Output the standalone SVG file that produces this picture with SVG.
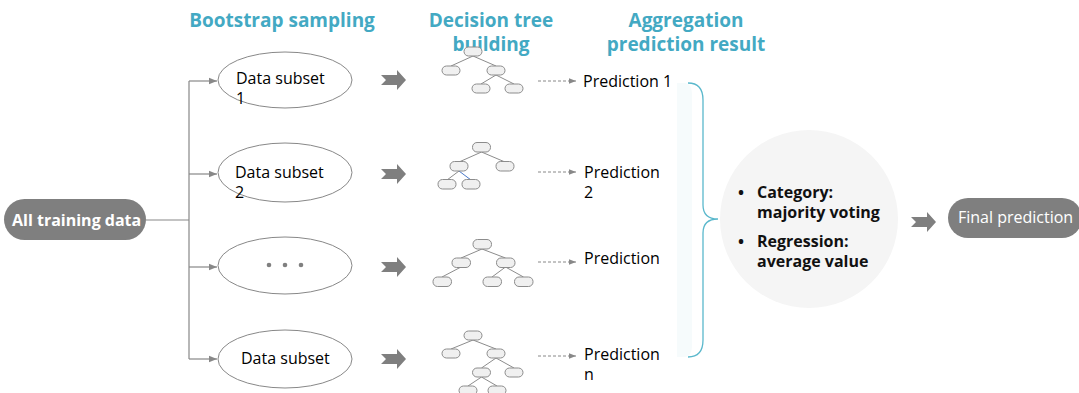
<svg xmlns="http://www.w3.org/2000/svg" width="1079" height="393" viewBox="0 0 1079 393">
<style>
.hd{font-family:"Open Sans","Noto Sans",sans-serif;font-weight:bold;font-size:19px;fill:#43a9c3;text-anchor:middle}
.t{font-family:"Open Sans","Noto Sans",sans-serif;font-size:16px;fill:#000}
.b{font-family:"Open Sans","Noto Sans",sans-serif;font-size:16px;font-weight:bold;fill:#111}
.w{font-family:"Open Sans","Noto Sans",sans-serif;font-size:16px;fill:#fff}
.ell{fill:#fff;stroke:#888;stroke-width:1}
.tn{fill:#f0f0f0;stroke:#8c8c8c;stroke-width:1}
.te{stroke:#8c8c8c;stroke-width:1;fill:none}
.ln{stroke:#888;stroke-width:1.2;fill:none}
.dash{stroke:#888;stroke-width:1;stroke-dasharray:3 2;fill:none}
.blk{fill:#7f7f7f}
</style>
<defs>
<marker id="ah" viewBox="0 0 10 10" refX="10" refY="5" markerWidth="8" markerHeight="8" markerUnits="userSpaceOnUse" orient="auto"><path d="M0,1 L10,5 L0,9 Z" fill="#888"/></marker>
<marker id="ahs" viewBox="0 0 10 10" refX="10" refY="5" markerWidth="7" markerHeight="7" markerUnits="userSpaceOnUse" orient="auto"><path d="M0,1 L10,5 L0,9 Z" fill="#888"/></marker>
<path id="blk" d="M0,-5 L16,-5 L16,-10 L25,0 L16,10 L16,5 L0,5 L5,0 Z"/>
</defs>

<g id="headers">
<text class="hd" x="282" y="27">Bootstrap sampling</text>
<text class="hd" x="491" y="27">Decision tree</text>
<text class="hd" x="491" y="51">building</text>
<text class="hd" x="686" y="27">Aggregation</text>
<text class="hd" x="686" y="51">prediction result</text>
</g>

<g id="connectors">
<path class="ln" d="M146,220 H189 M189,81 V359"/>
<path class="ln" d="M189,81 H217" marker-end="url(#ah)"/>
<path class="ln" d="M189,174 H217" marker-end="url(#ah)"/>
<path class="ln" d="M189,267 H217" marker-end="url(#ah)"/>
<path class="ln" d="M189,359 H217" marker-end="url(#ah)"/>
<use href="#blk" class="blk" x="381" y="80"/>
<use href="#blk" class="blk" x="381" y="174"/>
<use href="#blk" class="blk" x="381" y="267"/>
<use href="#blk" class="blk" x="381" y="359"/>
<use href="#blk" class="blk" x="911" y="222"/>
<path class="dash" d="M538,81 H576" marker-end="url(#ahs)"/>
<path class="dash" d="M538,172 H576" marker-end="url(#ahs)"/>
<path class="dash" d="M538,262 H576" marker-end="url(#ahs)"/>
<path class="dash" d="M538,356 H576" marker-end="url(#ahs)"/>
</g>

<g id="all-training-data">
<rect x="4" y="199" width="142" height="41" rx="20.5" fill="#7f7f7f"/>
<text class="w" x="12" y="226" font-weight="bold">All training data</text>
</g>

<g id="subset-1">
<ellipse class="ell" cx="285" cy="80" rx="67" ry="28"/>
<text class="t" x="236" y="84">Data subset</text>
<text class="t" x="236" y="104">1</text>
</g>
<g id="subset-2">
<ellipse class="ell" cx="285" cy="172.5" rx="67" ry="29.5"/>
<text class="t" x="235" y="178">Data subset</text>
<text class="t" x="235" y="198">2</text>
</g>
<g id="subset-dots">
<ellipse class="ell" cx="285" cy="265.5" rx="67" ry="28.5"/>
<circle cx="269" cy="265" r="2.3" fill="#808080"/>
<circle cx="285" cy="265" r="2.3" fill="#808080"/>
<circle cx="301" cy="265" r="2.3" fill="#808080"/>
</g>
<g id="subset-n">
<ellipse class="ell" cx="285" cy="359" rx="67" ry="29"/>
<text class="t" x="241" y="364">Data subset</text>
</g>

<g id="tree-1">
<path class="te" d="M473,56 L451,66 M473,56 L496,66 M496,75 L481,84 M496,75 L514,84"/>
<rect class="tn" x="464" y="47" width="18" height="9" rx="4.5"/>
<rect class="tn" x="442" y="66" width="18" height="9" rx="4.5"/>
<rect class="tn" x="487" y="66" width="18" height="9" rx="4.5"/>
<rect class="tn" x="472" y="84" width="18" height="9" rx="4.5"/>
<rect class="tn" x="505" y="84" width="18" height="9" rx="4.5"/>
</g>
<g id="tree-2">
<path class="te" d="M481.5,152 L459,162 M481.5,152 L505,162 M459,171 L447,180"/>
<path d="M459,171 L471,180" stroke="#4a78c8" stroke-width="1" fill="none"/>
<rect class="tn" x="472.5" y="142.5" width="18" height="9.5" rx="4.5"/>
<rect class="tn" x="450" y="161.5" width="18" height="9.5" rx="4.5"/>
<rect class="tn" x="496" y="161.5" width="18" height="9.5" rx="4.5"/>
<rect class="tn" x="438" y="179.5" width="18" height="9.5" rx="4.5"/>
<rect class="tn" x="462" y="179.5" width="18" height="9.5" rx="4.5"/>
</g>
<g id="tree-3">
<path class="te" d="M482,249 L461,258 M482,249 L505.5,258 M461,267 L442,277 M505.5,267 L492,277 M505.5,267 L523.5,277"/>
<rect class="tn" x="473" y="239.5" width="18.5" height="9.5" rx="4.5"/>
<rect class="tn" x="452" y="258" width="18.5" height="9.5" rx="4.5"/>
<rect class="tn" x="496.5" y="258" width="18.5" height="9.5" rx="4.5"/>
<rect class="tn" x="433" y="277" width="18.5" height="9.5" rx="4.5"/>
<rect class="tn" x="483" y="277" width="18.5" height="9.5" rx="4.5"/>
<rect class="tn" x="514.5" y="277" width="18.5" height="9.5" rx="4.5"/>
</g>
<g id="tree-4">
<path class="te" d="M473,340 L451,349 M473,340 L496,349 M496,358 L481.5,368 M496,358 L514,368 M481.5,377 L468,386 M481.5,377 L497,386"/>
<rect class="tn" x="464" y="331" width="18" height="9" rx="4.5"/>
<rect class="tn" x="442" y="349" width="18" height="9" rx="4.5"/>
<rect class="tn" x="487" y="349" width="18" height="9" rx="4.5"/>
<rect class="tn" x="472.5" y="368" width="18" height="9" rx="4.5"/>
<rect class="tn" x="505" y="368" width="18" height="9" rx="4.5"/>
<rect class="tn" x="459" y="386" width="18" height="9" rx="4.5"/>
<rect class="tn" x="488" y="386" width="18" height="9" rx="4.5"/>
</g>

<g id="prediction-1"><text class="t" x="583" y="87">Prediction 1</text></g>
<g id="prediction-2"><text class="t" x="584" y="178">Prediction</text><text class="t" x="584" y="198">2</text></g>
<g id="prediction-3"><text class="t" x="584" y="264">Prediction</text></g>
<g id="prediction-n"><text class="t" x="584" y="360">Prediction</text><text class="t" x="584" y="380">n</text></g>

<g id="aggregation">
<path d="M677,83 H684 Q692,83 692,95 V345 Q692,357 684,357 H677 Z" fill="#f6fbfc"/>
<path d="M688,83 Q703,83 703,100 V205 Q703,219 718,219 Q703,219 703,233 V340 Q703,357 688,357" fill="none" stroke="#5ab8cc" stroke-width="1.3"/>
<circle cx="809" cy="219" r="89" fill="#f5f5f5"/>
<text class="b" x="738" y="198">•</text>
<text class="b" x="757" y="198">Category:</text>
<text class="b" x="757" y="218">majority voting</text>
<text class="b" x="738" y="247">•</text>
<text class="b" x="757" y="247">Regression:</text>
<text class="b" x="757" y="267">average value</text>
</g>

<g id="final-prediction">
<rect x="948" y="198" width="134" height="40" rx="20" fill="#7f7f7f"/>
<text class="w" x="958" y="223">Final prediction</text>
</g>
</svg>
